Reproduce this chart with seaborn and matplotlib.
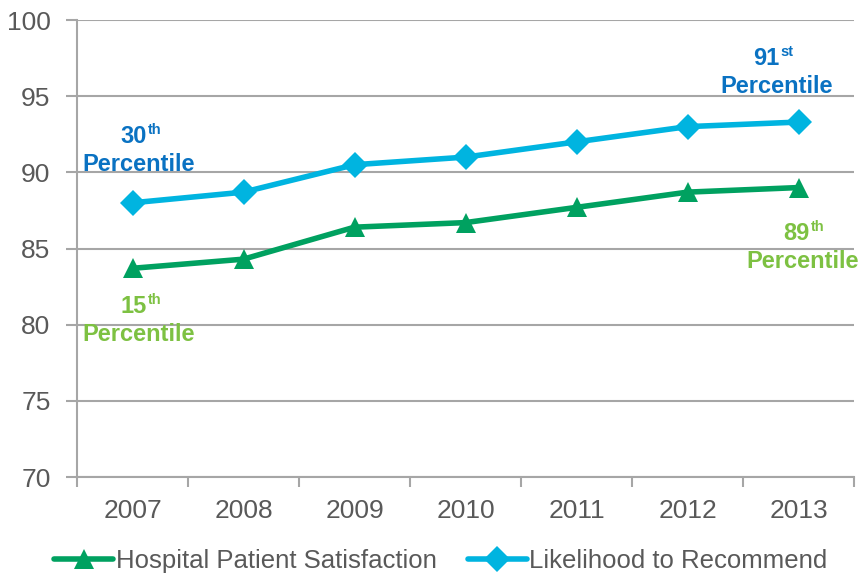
import matplotlib
matplotlib.use("Agg")
import matplotlib.pyplot as plt
import seaborn as sns
import pandas as pd
from matplotlib.ticker import FixedLocator

years = [2007, 2008, 2009, 2010, 2011, 2012, 2013]
satisfaction = [83.7, 84.3, 86.4, 86.7, 87.7, 88.7, 89.0]
recommend = [88.0, 88.7, 90.5, 91.0, 92.0, 93.0, 93.3]
series_names = ["Hospital Patient Satisfaction", "Likelihood to Recommend"]
y_ticks = [70, 75, 80, 85, 90, 95, 100]

GREEN = "#00A160"
CYAN = "#00B4E0"
LABEL_BLUE = "#0A72C2"
LABEL_GREEN = "#7DC142"
GRID = "#A6A6A6"
TEXT = "#595959"
MARKER_SIZES = {series_names[0]: 15, series_names[1]: 13}

sns.set_theme(style="white")
plt.rcParams["font.family"] = ["Liberation Sans", "DejaVu Sans"]

df = pd.DataFrame({
    "year": years * 2,
    "value": satisfaction + recommend,
    "series": [series_names[0]] * len(years) + [series_names[1]] * len(years),
})

fig = plt.figure(figsize=(8.63, 5.76), dpi=100)
ax = fig.add_axes([77 / 863, 1 - 477 / 576, (854 - 77) / 863, (477 - 20) / 576])

sns.lineplot(
    data=df, x="year", y="value", hue="series", style="series",
    palette={series_names[0]: GREEN, series_names[1]: CYAN},
    markers={series_names[0]: "^", series_names[1]: "D"},
    dashes=False, linewidth=4.0, markeredgewidth=0,
    ax=ax, legend=True, zorder=3,
)
for line in ax.get_lines():
    if line.get_marker() == "^":
        line.set_markersize(MARKER_SIZES[series_names[0]])
    elif line.get_marker() == "D":
        line.set_markersize(MARKER_SIZES[series_names[1]])

ax.set_xlim(years[0] - 0.5, years[-1] + 0.5)
ax.set_ylim(70, 100)
ax.set_xticks(years)
ax.set_xticklabels([str(y) for y in years])
ax.xaxis.set_minor_locator(FixedLocator([y - 0.5 for y in years] + [years[-1] + 0.5]))
ax.set_yticks(y_ticks)
ax.set_xlabel("")
ax.set_ylabel("")

ax.grid(axis="y", color=GRID, linewidth=1.5, zorder=0)
ax.grid(axis="x", visible=False)
for side in ("top", "right"):
    ax.spines[side].set_visible(False)
for side in ("left", "bottom"):
    ax.spines[side].set_color(GRID)
    ax.spines[side].set_linewidth(1.5)

ax.tick_params(axis="y", which="major", length=8, width=1.5, color=GRID,
               labelsize=19, labelcolor=TEXT, pad=11, left=True)
ax.tick_params(axis="x", which="major", length=0, labelsize=19,
               labelcolor=TEXT, pad=16)
ax.tick_params(axis="x", which="minor", length=7, width=1.5, color=GRID,
               bottom=True)

# Percentile callouts anchored to first/last points
def callout(x, y, num, sup, color, dx_num, dy_num, dx_word, dy_word):
    ax.annotate(num, xy=(x, y), xytext=(dx_num, dy_num), textcoords="offset pixels",
                ha="right", va="baseline", fontsize=17, fontweight="bold", color=color)
    ax.annotate(sup, xy=(x, y), xytext=(dx_num + 1, dy_num + 9), textcoords="offset pixels",
                ha="left", va="baseline", fontsize=10.5, fontweight="bold", color=color)
    ax.annotate("Percentile", xy=(x, y), xytext=(dx_word, dy_word), textcoords="offset pixels",
                ha="center", va="baseline", fontsize=17, fontweight="bold", color=color)

callout(years[0], recommend[0], "30", "th", LABEL_BLUE, 14, 60, 6, 32)
callout(years[-1], recommend[-1], "91", "st", LABEL_BLUE, -19, 57, -22, 29)
callout(years[0], satisfaction[0], "15", "th", LABEL_GREEN, 14, -45, 6, -73)
callout(years[-1], satisfaction[-1], "89", "th", LABEL_GREEN, 11, -52, 4, -80)

handles, labels = ax.get_legend_handles_labels()
leg = fig.legend(handles, labels, loc="center", bbox_to_anchor=(441 / 863, 1 - 561 / 576),
                 ncol=2, frameon=False, fontsize=18.5, handlelength=2.3,
                 handletextpad=0.1, columnspacing=1.2, labelcolor=TEXT)
ax.get_legend().remove()
for h, name in zip(leg.legend_handles, labels):
    h.set_linewidth(4.0)
    h.set_markersize(MARKER_SIZES[name])

fig.savefig("out.png", dpi=100)
